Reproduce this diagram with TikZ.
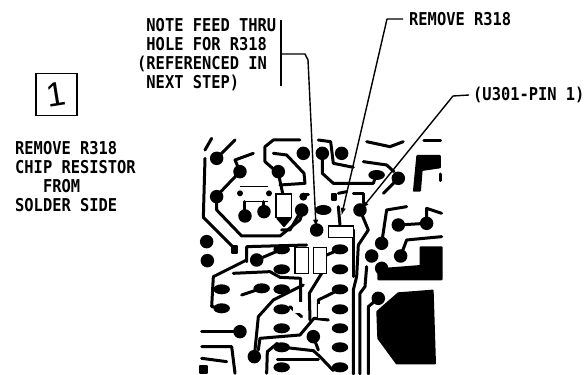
\documentclass[tikz,border=0pt]{standalone}
\usepackage{fontspec}
\usetikzlibrary{shapes.geometric}
\setmonofont[FakeStretch=0.87]{DejaVu Sans Mono}
\newfontfamily\numfont{Liberation Sans}

\def\padlist{{(80,85)/a}, {(150,125)/b}, {(80,200)/c}, {(340,70)/d}, {(397,70)/e}, {(455,70)/f}, {(265,125)/g}, {(165,258)/h}, {(222,245)/i}, {(335,240)/j}, {(380,300)/k}, {(510,240)/l}, {(200,390)/m}, {(50,335)/n}, {(52,392)/o}, {(150,605)/p}, {(193,680)/q}, {(370,620)/r}, {(575,340)/s}, {(625,285)/t}, {(710,280)/u}, {(632,378)/v}, {(545,378)/w}, {(575,415)/x}, {(565,505)/y}, {(625,145)/z}}
\def\ovallist{{(275,358)/l1}, {(275,418)/l2}, {(275,478)/l3}, {(275,538)/l4}, {(275,595)/l5}, {(275,652)/l6}, {(275,712)/l7}, {(450,358)/r1}, {(450,418)/r2}, {(450,478)/r3}, {(450,538)/r4}, {(450,595)/r5}, {(450,652)/r6}, {(450,712)/r7}, {(215,475)/b1}, {(95,478)/b2}, {(95,535)/b3}, {(400,240)/b4}, {(560,135)/b5}}
\tikzstyle{trace} = [draw, line width=3pt, line join=round, line cap=round]
\tikzstyle{thintrace} = [draw, line width=1.2pt]
\tikzstyle{copper} = [fill=black, draw=black, line join=round, line width=2pt]
\tikzstyle{chip} = [draw=black, fill=white, line width=1.2pt]
\tikzstyle{leader} = [draw, line width=1.4pt, line join=round]
\tikzstyle{tipped} = [leader, -latex]
\tikzstyle{pad} = [circle, fill=black, minimum size=13.5pt, inner sep=0pt]
\tikzstyle{oval} = [ellipse, fill=black, minimum width=16.5pt, minimum height=10pt, inner sep=0pt]
\tikzstyle{label} = [font=\ttfamily\bfseries\fontsize{17.7}{19}\selectfont, inner sep=0pt, align=left]

\begin{document}
\begin{tikzpicture}[x=1pt,y=-1pt]
  \useasboundingbox (0,0) rectangle (585,374);

  % circuit board
  \begin{scope}[shift={(190,130)},x=0.3333pt,y=-0.3333pt]
    \foreach \p in {
      {(45,60) -- (65,25)}, {(80,85) -- (135,30)},
      {(45,85) -- (40,262) -- (130,352)},
      {(190,70) -- (135,90) -- (150,125) -- (80,198) -- (80,240) -- (155,318) -- (270,318) -- (330,270) -- (342,232)},
      {(225,95) -- (225,50) -- (250,30) -- (330,30)},
      {(225,95) -- (265,130) -- (278,190)},
      {(250,70) -- (290,75) -- (342,130) -- (345,160) -- (270,165)},
      {(385,30) -- (422,35) -- (430,100) -- (490,112)},
      {(397,70) -- (397,130) -- (430,160) -- (550,160) -- (560,130)},
      {(520,95) -- (590,105) -- (612,125)}, {(530,35) -- (600,50) -- (640,35)},
      {(625,145) -- (580,190)}, {(445,190) -- (470,185)}, {(490,190) -- (520,190) -- (520,220)},
      {(445,230) -- (450,285)}, {(340,195) -- (355,195)},
      {(335,240) -- (300,300) -- (275,300)},
      {(170,395) -- (170,350) -- (350,345)},
      {(170,390) -- (70,440) -- (65,530) -- (100,535)},
      {(200,390) -- (275,358)}, {(130,430) -- (240,425) -- (270,442) -- (332,445) -- (332,515)},
      {(155,495) -- (215,475)}, {(193,680) -- (205,560) -- (250,510) -- (340,465)},
      {(205,660) -- (210,625) -- (330,615) -- (372,565) -- (415,570)},
      {(335,560) -- (300,530)}, {(395,430) -- (358,490) -- (360,570)},
      {(385,565) -- (385,510) -- (450,478)}, {(410,375) -- (450,358)},
      {(35,605) -- (150,605)}, {(35,650) -- (125,650) -- (135,730)}, {(35,685) -- (110,695)},
      {(262,650) -- (370,662) -- (390,680) -- (430,722)}, {(370,620) -- (385,660)},
      {(230,730) -- (232,665) -- (262,640)}, {(262,690) -- (385,690)},
      {(510,240) -- (535,300) -- (505,345) -- (500,440) -- (490,480) -- (490,732)},
      {(490,300) -- (490,440)},
      {(530,410) -- (525,470) -- (510,490) -- (510,732)},
      {(565,505) -- (535,530) -- (535,732)},
      {(575,340) -- (590,240) -- (650,230)}, {(625,285) -- (710,280) -- (710,235) -- (755,250)},
      {(632,378) -- (650,330) -- (755,320)}, {(702,32) -- (752,32)}, {(752,132) -- (752,152)}
    } {
      \path[trace] \p;
    }

    % large copper areas
    \path[copper] (562,545) -- (625,490) -- (728,482) -- (735,700) -- (620,700) -- (565,625) -- cycle;
    \path[copper] (692,352) -- (755,352) -- (755,448) -- (565,448) -- (565,418) -- (692,408) -- cycle;
    \path[copper] (672,182) -- (690,182) -- (695,120) -- (750,112) -- (750,78) -- (682,78) -- cycle;
    \path[copper] (30,708) rectangle (50,730);
    \path[copper] (425,192) rectangle (438,210);
    \path[copper] (125,348) rectangle (140,368);

    % chip resistors
    \path[chip] (258,192) rectangle (305,262);
    \path[copper] (262,265) -- (302,265) -- (282,288) -- cycle;
    \path[chip] (315,352) rectangle (355,430);
    \path[chip] (370,352) rectangle (410,430);
    \path[chip] (415,288) rectangle (490,322);
    \path[chip,draw=none] (310,515) rectangle (350,550);
    \path[chip,draw=none] (385,522) rectangle (415,565);
    \path[thintrace] (150,170) -- (235,170) (165,215) -- (235,215);
    \path[trace] (165,215) -- (165,258) (222,215) -- (222,245);

    \foreach \pos/\name in \padlist {
      \node[pad] (\name) at \pos {};
    }
    \foreach \pos/\name in \ovallist {
      \node[oval] (\name) at \pos {};
    }
    \node[oval] (g1) at (150,190) [minimum width=6pt,minimum height=6pt] {};
    \node[oval] (g2) at (237,190) [minimum width=6pt,minimum height=6pt] {};
    \node[oval] (g3) at (340,200) [minimum width=8pt,minimum height=8pt] {};

    \coordinate (feedtip) at (378,290);
    \coordinate (r318tip) at (455,255);
    \coordinate (pin1tip) at (516,235);
  \end{scope}

  % step box
  \node[draw, line width=1.6pt, minimum width=41pt, minimum height=42pt, inner sep=0pt] (stepbox) at (56.5,94.5) {};
  \node[font=\numfont\fontsize{34}{34}\selectfont, inner sep=0pt, rotate=9] (stepnum) at (stepbox.center) {1};

  % texts
  \node[label, anchor=north west] (steptxt) at (15,141) {REMOVE R318\\CHIP RESISTOR\\\ \ \ FROM\\SOLDER SIDE};
  \node[label, anchor=north west] (notetxt) at (137,18.5) {\ NOTE FEED THRU\\\ HOLE FOR R318\\(REFERENCED IN\\\ NEXT STEP)};
  \node[label, anchor=west] (removetxt) at (409,19) {REMOVE R318};
  \node[label, anchor=west] (pintxt) at (473,95) {(U301-PIN 1)};

  % leaders
  \coordinate (bartop) at (281,20);
  \coordinate (barbot) at (281,86);
  \coordinate (barmid) at (281,54);
  \path[leader] (bartop) -- (barbot);
  \path[tipped] (barmid) -- (305,54) -- (308,60) -- (feedtip);
  \path[tipped] (removetxt.west) ++(-6,0) -- (387,19) -- (r318tip);
  \path[tipped] (pintxt.west) ++(-4,0) -- (453,96) -- (pin1tip);
\end{tikzpicture}
\end{document}
